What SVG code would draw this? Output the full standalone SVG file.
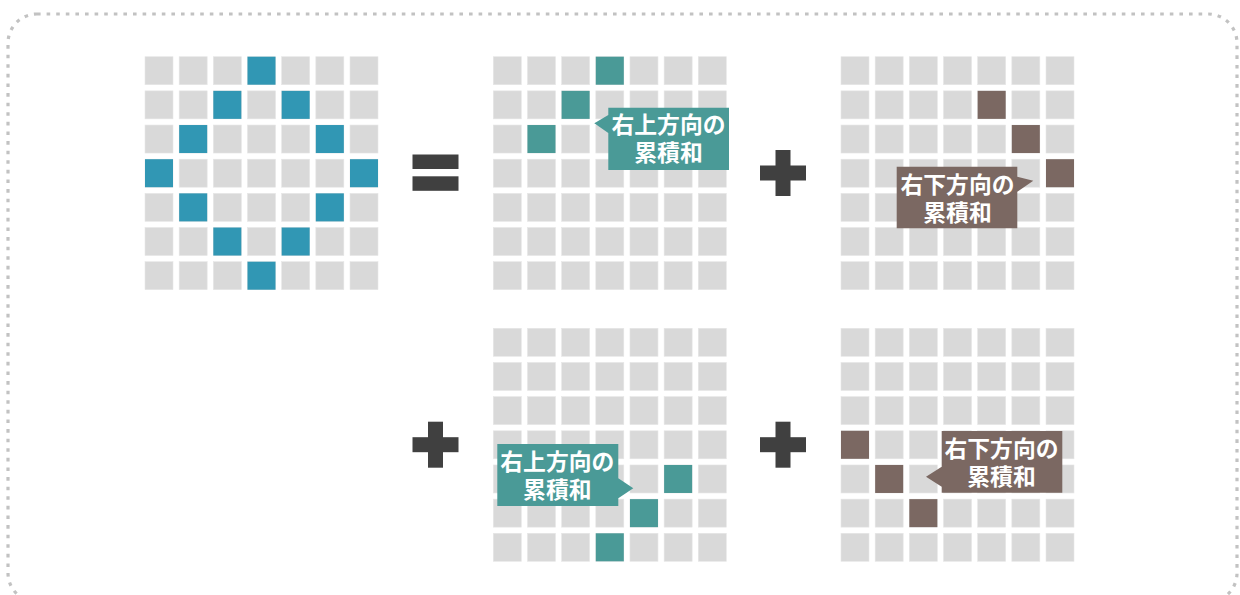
<svg xmlns="http://www.w3.org/2000/svg" xmlns:xlink="http://www.w3.org/1999/xlink" width="1240" height="595" viewBox="0 0 1240 595">
<style>
.c{fill:#d9d9d9;stroke:#e6e6e6;stroke-width:0.6}
.b{fill:#3197b4}
.t{fill:#4a9a97}
.r{fill:#7b6862}
.op{fill:#404040}
.lbl{font-family:"Noto Sans CJK JP","Noto Sans",sans-serif;font-weight:bold;font-size:22.8px;fill:#ffffff;text-anchor:middle}
</style>
<defs>
<g id="grid">
<rect class="c" x="0" y="0" width="28" height="28"/><rect class="c" x="34.17" y="0" width="28" height="28"/><rect class="c" x="68.33" y="0" width="28" height="28"/><rect class="c" x="102.5" y="0" width="28" height="28"/><rect class="c" x="136.67" y="0" width="28" height="28"/><rect class="c" x="170.83" y="0" width="28" height="28"/><rect class="c" x="205" y="0" width="28" height="28"/>
<rect class="c" x="0" y="34.17" width="28" height="28"/><rect class="c" x="34.17" y="34.17" width="28" height="28"/><rect class="c" x="68.33" y="34.17" width="28" height="28"/><rect class="c" x="102.5" y="34.17" width="28" height="28"/><rect class="c" x="136.67" y="34.17" width="28" height="28"/><rect class="c" x="170.83" y="34.17" width="28" height="28"/><rect class="c" x="205" y="34.17" width="28" height="28"/>
<rect class="c" x="0" y="68.33" width="28" height="28"/><rect class="c" x="34.17" y="68.33" width="28" height="28"/><rect class="c" x="68.33" y="68.33" width="28" height="28"/><rect class="c" x="102.5" y="68.33" width="28" height="28"/><rect class="c" x="136.67" y="68.33" width="28" height="28"/><rect class="c" x="170.83" y="68.33" width="28" height="28"/><rect class="c" x="205" y="68.33" width="28" height="28"/>
<rect class="c" x="0" y="102.5" width="28" height="28"/><rect class="c" x="34.17" y="102.5" width="28" height="28"/><rect class="c" x="68.33" y="102.5" width="28" height="28"/><rect class="c" x="102.5" y="102.5" width="28" height="28"/><rect class="c" x="136.67" y="102.5" width="28" height="28"/><rect class="c" x="170.83" y="102.5" width="28" height="28"/><rect class="c" x="205" y="102.5" width="28" height="28"/>
<rect class="c" x="0" y="136.67" width="28" height="28"/><rect class="c" x="34.17" y="136.67" width="28" height="28"/><rect class="c" x="68.33" y="136.67" width="28" height="28"/><rect class="c" x="102.5" y="136.67" width="28" height="28"/><rect class="c" x="136.67" y="136.67" width="28" height="28"/><rect class="c" x="170.83" y="136.67" width="28" height="28"/><rect class="c" x="205" y="136.67" width="28" height="28"/>
<rect class="c" x="0" y="170.83" width="28" height="28"/><rect class="c" x="34.17" y="170.83" width="28" height="28"/><rect class="c" x="68.33" y="170.83" width="28" height="28"/><rect class="c" x="102.5" y="170.83" width="28" height="28"/><rect class="c" x="136.67" y="170.83" width="28" height="28"/><rect class="c" x="170.83" y="170.83" width="28" height="28"/><rect class="c" x="205" y="170.83" width="28" height="28"/>
<rect class="c" x="0" y="205" width="28" height="28"/><rect class="c" x="34.17" y="205" width="28" height="28"/><rect class="c" x="68.33" y="205" width="28" height="28"/><rect class="c" x="102.5" y="205" width="28" height="28"/><rect class="c" x="136.67" y="205" width="28" height="28"/><rect class="c" x="170.83" y="205" width="28" height="28"/><rect class="c" x="205" y="205" width="28" height="28"/>
</g>
<g id="plus" class="op"><rect x="-23" y="-7.5" width="46" height="15"/><rect x="-7.5" y="-23" width="15" height="46"/></g>
</defs>

<rect id="frame" x="8" y="14" width="1229" height="588" rx="29" ry="29" fill="none" stroke="#c2c2c2" stroke-width="3.2" stroke-dasharray="3.6 6"/>

<g id="grid-diamond" transform="translate(145,56.7)">
<use xlink:href="#grid"/>
<rect class="b" x="102.5" y="0" width="28" height="28"/>
<rect class="b" x="68.33" y="34.17" width="28" height="28"/>
<rect class="b" x="136.67" y="34.17" width="28" height="28"/>
<rect class="b" x="34.17" y="68.33" width="28" height="28"/>
<rect class="b" x="170.83" y="68.33" width="28" height="28"/>
<rect class="b" x="0" y="102.5" width="28" height="28"/>
<rect class="b" x="205" y="102.5" width="28" height="28"/>
<rect class="b" x="34.17" y="136.67" width="28" height="28"/>
<rect class="b" x="170.83" y="136.67" width="28" height="28"/>
<rect class="b" x="68.33" y="170.83" width="28" height="28"/>
<rect class="b" x="136.67" y="170.83" width="28" height="28"/>
<rect class="b" x="102.5" y="205" width="28" height="28"/>
</g>

<g id="equals" class="op">
<rect x="412.5" y="154.5" width="46" height="14.5"/>
<rect x="412.5" y="176.3" width="46" height="14.5"/>
</g>

<g id="grid-upright-top" transform="translate(493.3,56.7)">
<use xlink:href="#grid"/>
<rect class="t" x="102.5" y="0" width="28" height="28"/>
<rect class="t" x="68.33" y="34.17" width="28" height="28"/>
<rect class="t" x="34.17" y="68.33" width="28" height="28"/>
</g>
<g id="label-upright-top">
<path class="t" d="M608.3,107.7 H729 V170 H608.3 V133 L594.3,123.3 L608.3,115 Z"/>
<text class="lbl"><tspan x="668.5" y="133.4">右上方向の</tspan><tspan x="668.5" y="161.4">累積和</tspan></text>
</g>

<use id="plus-1" xlink:href="#plus" x="783" y="173"/>

<g id="grid-downright-top" transform="translate(841,56.7)">
<use xlink:href="#grid"/>
<rect class="r" x="136.67" y="34.17" width="28" height="28"/>
<rect class="r" x="170.83" y="68.33" width="28" height="28"/>
<rect class="r" x="205" y="102.5" width="28" height="28"/>
</g>
<g id="label-downright-top">
<path class="r" d="M896.7,166.7 H1017.3 V176.7 L1033.3,180.7 L1017.3,191.7 V228.3 H896.7 Z"/>
<text class="lbl"><tspan x="957.5" y="192.7">右下方向の</tspan><tspan x="957.5" y="220.7">累積和</tspan></text>
</g>

<use id="plus-2" xlink:href="#plus" x="435.5" y="444.7"/>

<g id="grid-upright-bottom" transform="translate(493.3,328.3)">
<use xlink:href="#grid"/>
<rect class="t" x="170.83" y="136.67" width="28" height="28"/>
<rect class="t" x="136.67" y="170.83" width="28" height="28"/>
<rect class="t" x="102.5" y="205" width="28" height="28"/>
</g>
<g id="label-upright-bottom">
<path class="t" d="M497.3,444 H618.3 V478.3 L633.3,488.3 L618.3,498.3 V506 H497.3 Z"/>
<text class="lbl"><tspan x="557.3" y="470.2">右上方向の</tspan><tspan x="557.3" y="498.2">累積和</tspan></text>
</g>

<use id="plus-3" xlink:href="#plus" x="783" y="444.7"/>

<g id="grid-downright-bottom" transform="translate(841,328.3)">
<use xlink:href="#grid"/>
<rect class="r" x="0" y="102.5" width="28" height="28"/>
<rect class="r" x="34.17" y="136.67" width="28" height="28"/>
<rect class="r" x="68.33" y="170.83" width="28" height="28"/>
</g>
<g id="label-downright-bottom">
<path class="r" d="M941.7,431 H1062.3 V492.7 H941.7 V486.7 L926,476.7 L941.7,466.7 Z"/>
<text class="lbl"><tspan x="1001.5" y="457.2">右下方向の</tspan><tspan x="1001.5" y="485.2">累積和</tspan></text>
</g>

<g id="connectors"></g>
</svg>
